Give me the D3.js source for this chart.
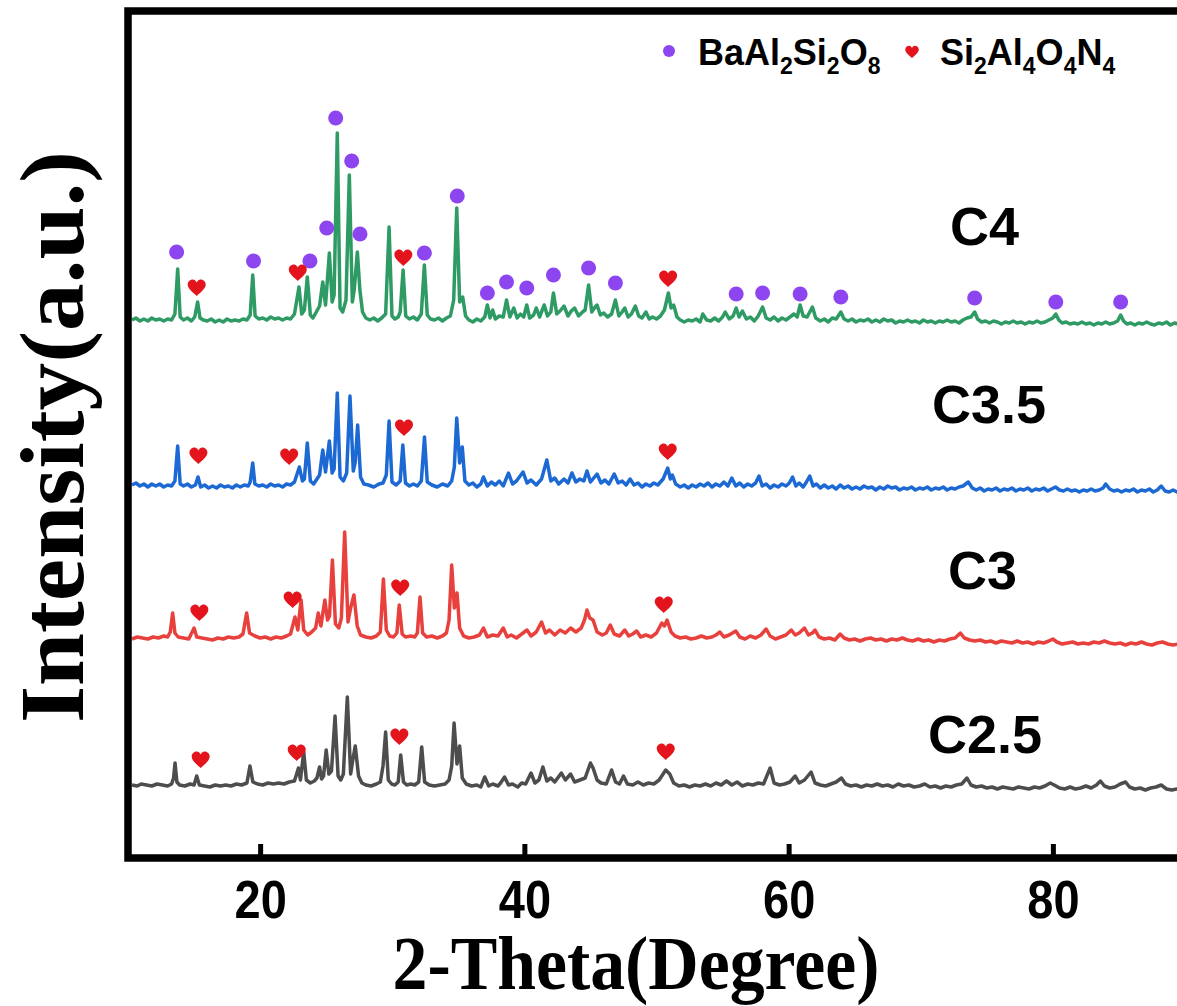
<!DOCTYPE html>
<html>
<head>
<meta charset="utf-8">
<script src="https://cdn.jsdelivr.net/npm/d3@7"></script>
<style>
  body { margin: 0; background: #fff; }
</style>
</head>
<body>
<div id="chart"></div>
<script>
// ---- data (2-theta in degrees, intensity in a.u.) ----
const seriesNames = ["C2.5", "C3", "C3.5", "C4"];
// vertical stacking offset of each pattern
const offsets = [72, 220, 371, 538];

const patternC25 = [[10.3,1],[10.7,0],[11.0,2],[11.4,1],[11.8,0],[12.2,2],[12.6,1],[13.0,0],[13.3,2],[13.45,8],[13.56,23],[13.7,4],[13.9,1],[14.3,0],[14.7,2],[15.0,1],[15.2,10],[15.4,1],[15.8,0],[16.2,-1],[16.6,1],[17.0,0],[17.4,1],[17.8,0],[18.2,2],[18.6,1],[19.0,3],[19.23,20],[19.45,4],[19.8,2],[20.2,1],[20.6,3],[21.0,2],[21.4,3],[21.8,2],[22.2,4],[22.6,5],[22.9,18],[23.05,6],[23.3,34],[23.5,6],[23.8,3],[24.1,5],[24.3,8],[24.5,19],[24.65,7],[24.8,10],[25.0,36],[25.2,12],[25.4,15],[25.67,70],[25.9,10],[26.1,6],[26.3,12],[26.6,89],[26.85,12],[27.0,25],[27.2,40],[27.45,10],[27.7,3],[28.0,1],[28.4,0],[28.8,2],[29.1,4],[29.3,20],[29.5,54],[29.7,6],[29.95,2],[30.2,1],[30.45,4],[30.64,31],[30.85,4],[31.1,1],[31.4,2],[31.7,1],[32.0,4],[32.23,39],[32.45,4],[32.8,1],[33.2,0],[33.6,1],[34.0,2],[34.3,6],[34.5,20],[34.68,63],[34.9,22],[35.1,40],[35.3,8],[35.6,2],[36.0,0],[36.4,1],[36.7,-1],[37.0,9],[37.3,0],[37.6,2],[38.0,0],[38.2,3],[38.5,9],[38.8,1],[39.1,2],[39.5,-1],[39.8,3],[40.1,2],[40.5,13],[40.8,3],[41.1,6],[41.4,19],[41.7,5],[42.0,8],[42.3,4],[42.8,13],[43.1,6],[43.5,12],[43.8,4],[44.2,6],[44.6,8],[45.0,23],[45.2,18],[45.5,6],[45.8,3],[46.2,2],[46.6,16],[46.9,4],[47.2,2],[47.5,10],[47.8,2],[48.2,1],[48.6,4],[49.0,1],[49.4,3],[49.8,2],[50.2,6],[50.5,12],[50.7,16],[51.0,12],[51.3,3],[51.7,0],[52.1,1],[52.5,-1],[52.9,1],[53.3,0],[53.7,2],[54.1,0],[54.5,3],[54.9,1],[55.3,5],[55.7,1],[56.1,4],[56.5,0],[56.9,2],[57.3,1],[57.7,3],[58.1,2],[58.6,18],[58.9,3],[59.3,1],[59.7,2],[60.1,4],[60.5,10],[60.8,3],[61.2,6],[61.7,14],[62.0,3],[62.4,1],[62.8,0],[63.2,2],[63.6,4],[64.0,8],[64.3,2],[64.7,0],[65.1,1],[65.5,-1],[65.9,1],[66.3,0],[66.7,2],[67.1,0],[67.5,1],[67.9,-1],[68.3,2],[68.7,0],[69.1,1],[69.5,-1],[69.9,0],[70.3,2],[70.7,-1],[71.1,0],[71.5,-2],[71.9,0],[72.3,-1],[72.7,1],[73.1,2],[73.5,8],[73.8,1],[74.2,-1],[74.6,0],[75.0,-2],[75.4,-1],[75.8,-3],[76.2,-1],[76.6,-2],[77.0,-3],[77.4,-1],[77.8,-2],[78.2,-3],[78.6,-1],[79.0,-2],[79.4,0],[79.8,3],[80.1,1],[80.5,-2],[80.9,-3],[81.3,-1],[81.7,-3],[82.1,-2],[82.5,0],[82.9,-2],[83.3,1],[83.6,5],[83.9,0],[84.3,-2],[84.7,-1],[85.1,2],[85.5,4],[85.8,-1],[86.2,-3],[86.6,-2],[87.0,-4],[87.4,-2],[87.8,-1],[88.2,1],[88.6,-3],[89.0,-4],[89.4,-3],[89.8,-4],[90,-4]];

const patternC3 = [[10.3,-1],[10.7,1],[11.1,0],[11.5,-1],[11.9,1],[12.3,0],[12.7,2],[13.0,1],[13.2,6],[13.38,25],[13.55,5],[13.8,1],[14.2,0],[14.6,-1],[15.0,10],[15.2,1],[15.6,0],[16.0,-1],[16.4,-2],[16.8,0],[17.2,-1],[17.6,1],[18.0,0],[18.4,1],[18.7,4],[18.98,25],[19.2,5],[19.6,2],[20.0,0],[20.4,1],[20.8,-1],[21.2,1],[21.6,0],[22.0,2],[22.3,4],[22.64,21],[22.85,8],[23.1,38],[23.3,8],[23.6,3],[23.9,6],[24.2,10],[24.4,25],[24.6,12],[24.9,38],[25.1,18],[25.25,22],[25.47,78],[25.7,14],[25.95,10],[26.15,20],[26.4,106],[26.65,16],[26.85,30],[27.1,43],[27.35,12],[27.6,3],[28.0,1],[28.4,0],[28.8,2],[29.1,6],[29.33,59],[29.55,8],[29.8,2],[30.1,1],[30.35,5],[30.53,33],[30.75,4],[31.0,1],[31.4,2],[31.7,1],[31.9,5],[32.1,41],[32.3,5],[32.6,1],[33.0,2],[33.4,0],[33.8,2],[34.1,5],[34.3,18],[34.5,73],[34.7,30],[34.9,45],[35.1,10],[35.4,2],[35.8,0],[36.2,1],[36.6,3],[36.9,10],[37.2,1],[37.6,3],[38.0,2],[38.4,10],[38.7,1],[39.0,3],[39.4,0],[39.8,4],[40.2,8],[40.5,2],[40.9,6],[41.3,16],[41.6,5],[41.9,8],[42.3,3],[42.7,8],[43.1,5],[43.5,10],[43.9,6],[44.3,10],[44.55,18],[44.74,28],[44.95,20],[45.2,18],[45.5,6],[45.9,3],[46.2,5],[46.5,13],[46.8,4],[47.2,2],[47.6,8],[47.9,2],[48.2,4],[48.5,7],[48.8,1],[49.2,3],[49.6,1],[50.0,5],[50.4,15],[50.6,12],[50.8,18],[51.1,6],[51.4,2],[51.8,0],[52.2,1],[52.6,-1],[53.0,0],[53.4,2],[53.8,0],[54.2,1],[54.5,3],[54.8,6],[55.1,1],[55.5,3],[56.0,7],[56.3,1],[56.7,-1],[57.1,2],[57.5,0],[57.9,3],[58.3,9],[58.6,2],[59.0,-1],[59.4,1],[59.8,3],[60.2,8],[60.5,3],[60.8,5],[61.2,10],[61.5,3],[61.8,5],[62.0,8],[62.3,1],[62.7,-1],[63.1,0],[63.5,-2],[63.9,4],[64.2,0],[64.6,-2],[65.0,-1],[65.4,-3],[65.8,-1],[66.2,0],[66.6,-2],[67.0,-1],[67.4,-3],[67.8,-1],[68.2,-2],[68.6,0],[69.0,-2],[69.4,-3],[69.8,-1],[70.2,-3],[70.6,-2],[71.0,-4],[71.4,-2],[71.8,-3],[72.2,-1],[72.6,0],[73.0,5],[73.3,0],[73.7,-2],[74.1,-3],[74.5,-2],[74.9,-4],[75.3,-3],[75.7,-5],[76.1,-3],[76.5,-4],[76.9,-5],[77.3,-3],[77.7,-5],[78.1,-4],[78.5,-6],[78.9,-4],[79.3,-5],[79.7,-3],[80.0,-1],[80.3,-4],[80.7,-6],[81.1,-5],[81.5,-4],[81.9,-6],[82.3,-5],[82.7,-6],[83.1,-4],[83.5,-5],[83.9,-3],[84.3,-5],[84.7,-6],[85.1,-5],[85.5,-7],[85.9,-5],[86.3,-6],[86.7,-4],[87.1,-6],[87.5,-7],[87.9,-5],[88.3,-4],[88.7,-6],[89.1,-7],[89.5,-6],[90,-7]];

const patternC35 = [[10.3,2],[10.6,4],[10.9,1],[11.2,3],[11.5,0],[11.8,3],[12.1,1],[12.4,3],[12.7,0],[13.0,2],[13.3,1],[13.55,6],[13.76,41],[13.95,3],[14.2,1],[14.5,3],[14.8,0],[15.1,2],[15.3,10],[15.5,0],[15.8,2],[16.1,-1],[16.4,1],[16.7,-1],[17.0,2],[17.3,0],[17.6,1],[17.9,-1],[18.2,2],[18.5,0],[18.8,2],[19.1,1],[19.25,5],[19.44,24],[19.6,3],[19.9,1],[20.2,2],[20.5,0],[20.8,3],[21.1,1],[21.4,2],[21.7,0],[22.0,3],[22.3,2],[22.6,5],[22.97,20],[23.2,6],[23.35,8],[23.57,44],[23.8,6],[24.05,3],[24.3,8],[24.5,12],[24.74,37],[24.95,15],[25.24,46],[25.45,14],[25.6,18],[25.84,94],[26.05,10],[26.3,6],[26.55,14],[26.8,91],[27.05,16],[27.2,25],[27.38,62],[27.6,10],[27.85,3],[28.2,2],[28.6,0],[29.0,3],[29.3,4],[29.55,12],[29.76,66],[29.98,5],[30.3,2],[30.6,6],[30.8,42],[31.0,4],[31.3,1],[31.6,3],[31.9,1],[32.2,6],[32.44,50],[32.65,5],[33.0,2],[33.4,0],[33.8,3],[34.2,1],[34.5,6],[34.7,20],[34.88,69],[35.1,24],[35.3,40],[35.5,6],[35.8,2],[36.1,4],[36.4,0],[36.7,3],[36.9,10],[37.2,1],[37.5,5],[37.8,2],[38.1,6],[38.4,1],[38.8,14],[39.1,3],[39.4,6],[39.9,15],[40.2,4],[40.5,7],[40.9,2],[41.3,8],[41.7,27],[42.0,6],[42.3,9],[42.6,3],[43.0,8],[43.3,4],[43.6,14],[43.9,5],[44.2,8],[44.5,6],[44.74,16],[45.0,5],[45.5,13],[45.8,4],[46.1,7],[46.4,3],[46.8,13],[47.1,4],[47.4,6],[47.7,2],[48.0,8],[48.3,2],[48.6,4],[48.9,0],[49.2,3],[49.5,1],[49.8,4],[50.1,2],[50.5,8],[50.85,19],[51.05,8],[51.2,12],[51.45,3],[51.8,0],[52.1,2],[52.4,-1],[52.7,2],[53.0,0],[53.3,3],[53.6,1],[53.9,4],[54.2,0],[54.5,3],[54.8,1],[55.1,5],[55.4,1],[55.7,9],[56.0,1],[56.3,4],[56.6,0],[56.9,3],[57.2,1],[57.5,4],[57.76,11],[58.0,1],[58.3,3],[58.6,-1],[58.9,2],[59.2,0],[59.5,3],[59.8,1],[60.05,4],[60.3,10],[60.55,1],[60.8,4],[61.1,0],[61.35,5],[61.6,11],[61.85,1],[62.1,3],[62.4,-1],[62.7,2],[63.0,-1],[63.3,1],[63.6,-2],[63.9,2],[64.2,-1],[64.5,1],[64.8,-2],[65.1,0],[65.4,-2],[65.7,1],[66.0,-1],[66.3,0],[66.6,-3],[66.9,0],[67.2,-2],[67.5,1],[67.8,-1],[68.1,0],[68.4,-3],[68.7,-1],[69.0,-2],[69.3,0],[69.6,-3],[69.9,-1],[70.2,-2],[70.5,0],[70.8,-3],[71.1,-1],[71.4,-2],[71.7,0],[72.0,-3],[72.3,-1],[72.6,-2],[72.9,0],[73.2,1],[73.6,5],[73.9,-1],[74.2,-3],[74.5,-1],[74.8,-4],[75.1,-2],[75.4,-3],[75.7,-1],[76.0,-4],[76.3,-2],[76.6,-3],[76.9,-1],[77.2,-4],[77.5,-2],[77.8,-3],[78.1,-1],[78.4,-4],[78.7,-2],[79.0,-3],[79.3,-1],[79.6,-4],[79.9,-2],[80.2,0],[80.5,-3],[80.8,-4],[81.1,-2],[81.4,-4],[81.7,-3],[82.0,-5],[82.3,-3],[82.6,-4],[82.9,-2],[83.2,-4],[83.5,-3],[83.8,-1],[84.0,3],[84.3,-2],[84.6,-4],[84.9,-3],[85.2,-5],[85.5,-3],[85.8,-4],[86.1,-2],[86.4,-5],[86.7,-3],[87.0,-4],[87.3,-2],[87.6,-5],[87.9,-3],[88.2,1],[88.5,-4],[88.8,-5],[89.1,-3],[89.4,-5],[89.7,-4],[90,-5]];

const patternC4 = [[10.3,0],[10.6,2],[10.9,-1],[11.2,1],[11.5,-1],[11.8,2],[12.1,0],[12.4,1],[12.7,-1],[13.0,1],[13.3,0],[13.55,6],[13.76,51],[13.95,3],[14.2,0],[14.5,2],[14.8,-1],[15.05,3],[15.27,18],[15.45,2],[15.7,0],[16.0,-1],[16.3,1],[16.6,-2],[16.9,0],[17.2,-2],[17.5,1],[17.8,-1],[18.1,0],[18.4,-1],[18.7,1],[19.0,0],[19.25,5],[19.44,45],[19.62,4],[19.9,1],[20.2,2],[20.5,0],[20.8,3],[21.1,1],[21.4,2],[21.7,0],[22.0,2],[22.3,1],[22.6,6],[22.94,33],[23.15,6],[23.35,10],[23.57,43],[23.8,5],[24.0,2],[24.25,8],[24.5,14],[24.74,38],[24.95,15],[25.24,67],[25.45,18],[25.6,25],[25.84,187],[26.05,12],[26.25,8],[26.5,20],[26.75,145],[26.98,18],[27.12,30],[27.36,68],[27.55,30],[27.75,8],[28.0,2],[28.3,0],[28.6,2],[28.9,-1],[29.2,2],[29.5,6],[29.76,93],[29.98,4],[30.2,1],[30.45,3],[30.6,8],[30.82,50],[31.02,4],[31.3,1],[31.6,3],[31.9,0],[32.2,6],[32.43,55],[32.65,5],[32.9,1],[33.2,0],[33.5,2],[33.8,-1],[34.1,2],[34.4,4],[34.65,20],[34.88,112],[35.1,18],[35.33,23],[35.55,4],[35.8,0],[36.1,-2],[36.4,1],[36.7,-1],[37.0,3],[37.2,15],[37.4,2],[37.6,10],[37.8,1],[38.1,4],[38.4,3],[38.65,20],[38.9,3],[39.2,12],[39.45,2],[39.7,6],[39.95,3],[40.18,15],[40.4,2],[40.7,5],[40.9,12],[41.15,3],[41.5,15],[41.75,4],[42.0,8],[42.2,27],[42.45,6],[42.7,9],[43.0,14],[43.3,4],[43.55,9],[43.8,12],[44.1,4],[44.4,8],[44.6,10],[44.86,35],[45.1,8],[45.3,12],[45.5,15],[45.75,5],[46.0,7],[46.3,3],[46.6,6],[46.89,20],[47.15,4],[47.4,8],[47.6,12],[47.85,3],[48.1,6],[48.4,14],[48.65,4],[48.9,2],[49.2,8],[49.45,1],[49.7,3],[50.0,1],[50.3,4],[50.6,10],[50.9,27],[51.1,12],[51.3,15],[51.55,3],[51.8,0],[52.1,-2],[52.4,0],[52.7,-1],[53.0,1],[53.3,-2],[53.5,6],[53.8,0],[54.1,-1],[54.4,2],[54.7,-1],[55.0,3],[55.2,8],[55.5,1],[55.8,4],[56.03,12],[56.25,3],[56.5,9],[56.8,1],[57.1,3],[57.4,-1],[57.7,4],[58.03,13],[58.3,2],[58.6,0],[58.9,3],[59.2,-1],[59.5,2],[59.8,0],[60.1,3],[60.4,6],[60.65,3],[60.87,15],[61.1,4],[61.4,3],[61.8,13],[62.05,2],[62.4,-1],[62.7,1],[63.0,-2],[63.3,2],[63.6,1],[63.95,8],[64.2,1],[64.5,-1],[64.8,1],[65.1,-2],[65.4,0],[65.7,-1],[66.0,1],[66.3,-2],[66.6,0],[66.9,-2],[67.2,1],[67.5,-1],[67.8,0],[68.1,-3],[68.4,-1],[68.7,-2],[69.0,0],[69.3,-2],[69.6,-1],[69.9,-3],[70.2,0],[70.5,-2],[70.8,-1],[71.1,-3],[71.4,-1],[71.7,-2],[72.0,0],[72.3,-2],[72.6,-1],[72.9,-3],[73.2,0],[73.5,2],[73.8,3],[74.08,8],[74.3,1],[74.6,-2],[74.9,-1],[75.2,-3],[75.5,-1],[75.8,-2],[76.1,-4],[76.4,-2],[76.7,-3],[77.0,-1],[77.3,-3],[77.6,-2],[77.9,-4],[78.2,-2],[78.5,-3],[78.8,-1],[79.1,-3],[79.4,-2],[79.7,0],[80.0,2],[80.22,6],[80.45,0],[80.7,-3],[81.0,-2],[81.3,-4],[81.6,-3],[81.9,-4],[82.2,-2],[82.5,-4],[82.8,-3],[83.1,-5],[83.4,-3],[83.7,-4],[84.0,-2],[84.3,-4],[84.6,-3],[84.9,-1],[85.13,5],[85.35,-1],[85.6,-4],[85.9,-3],[86.2,-5],[86.5,-3],[86.8,-4],[87.1,-2],[87.4,-4],[87.7,-5],[88.0,-3],[88.3,-4],[88.6,-2],[88.9,-5],[89.2,-3],[89.5,-4],[89.8,-6],[90,-5]];

// phase markers: [2-theta, height above the pattern baseline]
const baAl2Si2O8MarksC4 = [[13.68,68],[19.5,59],[23.77,59],[25.04,92],[25.72,202],[26.93,159],[27.56,86],[32.43,67],[34.92,124],[37.2,27],[38.65,38],[40.18,32],[42.2,45],[44.86,52],[46.89,37],[56.03,26],[58.03,27],[60.87,26],[63.95,23],[74.08,22],[80.22,18],[85.13,18]];
const si2Al4O4N4MarksC25 = [[15.5,26],[22.77,33],[30.54,49],[50.7,34]];
const si2Al4O4N4MarksC3 = [[15.4,25],[22.46,38],[30.6,50],[50.55,33]];
const si2Al4O4N4MarksC35 = [[15.33,31],[22.2,30],[30.89,59],[50.85,35]];
const si2Al4O4N4MarksC4 = [[15.2,32],[22.85,47],[30.84,62],[50.88,41]];

const xTicks = [20, 40, 60, 80];

// ---- layout ----
const width = 1177, height = 1006;
const plot = { left: 128, top: 11, bottom: 858, right: 1185 };
const sansFont = "'Liberation Sans', Arial, Helvetica, sans-serif";
const serifFont = "'Liberation Serif', 'Times New Roman', Times, serif";

const patterns = [patternC25, patternC3, patternC35, patternC4];
const hearts = [si2Al4O4N4MarksC25, si2Al4O4N4MarksC3, si2Al4O4N4MarksC35, si2Al4O4N4MarksC4];
const lineColors = ["#4d4d4d", "#e8403d", "#1c69d4", "#2e9a64"];
const labelPos = [[928, 753], [948, 589], [932, 423], [950, 245]];
const purple = "#8d45f0", red = "#e3141c";

const svg = d3.select("#chart").append("svg")
    .attr("width", width)
    .attr("height", height)
    .style("background", "#fff");

const x = d3.scaleLinear().domain([10, 90]).range([plot.left, plot.right]);
const y = d3.scaleLinear().domain([0, plot.bottom - plot.top]).range([plot.bottom, plot.top]);

// heart marker path, roughly 18 x 16.5 px
const heartPath = "M0,8 C-3,5 -9,1 -9,-3.5 C-9,-7 -6,-8.5 -4,-8.5 C-2,-8.5 -0.5,-7 0,-5.5 C0.5,-7 2,-8.5 4,-8.5 C6,-8.5 9,-7 9,-3.5 C9,1 3,5 0,8 Z";

// patterns
patterns.forEach((pts, i) => {
    const line = d3.line()
        .x(d => x(d[0]))
        .y(d => y(d[1] + offsets[i]));
    svg.append("path")
        .datum(pts)
        .attr("fill", "none")
        .attr("stroke", lineColors[i])
        .attr("stroke-width", 3.5)
        .attr("stroke-linejoin", "round")
        .attr("d", line);
});

// BaAl2Si2O8 circles on C4
svg.append("g").selectAll("circle")
    .data(baAl2Si2O8MarksC4)
    .enter().append("circle")
    .attr("cx", d => x(d[0]))
    .attr("cy", d => y(d[1] + offsets[3]))
    .attr("r", 7.5)
    .attr("fill", purple);

// Si2Al4O4N4 hearts on every pattern
hearts.forEach((marks, i) => {
    svg.append("g").selectAll("path")
        .data(marks)
        .enter().append("path")
        .attr("d", heartPath)
        .attr("transform", d => `translate(${x(d[0])},${y(d[1] + offsets[i])})`)
        .attr("fill", red);
});

// frame (right edge falls outside the picture)
svg.append("rect")
    .attr("x", plot.left)
    .attr("y", plot.top)
    .attr("width", plot.right - plot.left)
    .attr("height", plot.bottom - plot.top)
    .attr("fill", "none")
    .attr("stroke", "#000")
    .attr("stroke-width", 7.5);

// bottom axis: inward ticks
const xAxis = svg.append("g")
    .attr("transform", `translate(0,${plot.bottom})`)
    .call(d3.axisBottom(x).tickValues(xTicks).tickSize(-14).tickSizeOuter(0).tickFormat(d3.format("d")));
xAxis.select(".domain").remove();
xAxis.selectAll(".tick line").attr("stroke", "#000").attr("stroke-width", 5);
xAxis.selectAll(".tick text")
    .attr("y", 0).attr("dy", 0)
    .attr("transform", "translate(0,60) scale(1,1.13)")
    .attr("fill", "#000")
    .style("font-family", sansFont)
    .style("font-weight", "bold")
    .style("font-size", "47px");

// axis titles
svg.append("text")
    .attr("transform", "translate(636,989) scale(1,1.1)")
    .attr("text-anchor", "middle")
    .attr("textLength", 487)
    .attr("lengthAdjust", "spacingAndGlyphs")
    .style("font-family", serifFont)
    .style("font-weight", "bold")
    .style("font-size", "70px")
    .text("2-Theta(Degree)");

svg.append("text")
    .attr("transform", "translate(83,437) rotate(-90)")
    .attr("text-anchor", "middle")
    .attr("textLength", 572)
    .attr("lengthAdjust", "spacingAndGlyphs")
    .style("font-family", serifFont)
    .style("font-weight", "bold")
    .style("font-size", "92px")
    .text("Intensity(a.u.)");

// pattern labels
seriesNames.forEach((name, i) => {
    svg.append("text")
        .attr("x", labelPos[i][0])
        .attr("y", labelPos[i][1])
        .style("font-family", sansFont)
        .style("font-weight", "bold")
        .style("font-size", "54px")
        .text(name);
});

// legend
function chemText(xPos, yPos, parts) {
    const t = svg.append("text")
        .attr("x", xPos)
        .attr("y", yPos)
        .style("font-family", sansFont)
        .style("font-weight", "bold")
        .style("font-size", "36px");
    let shifted = false;
    parts.forEach(p => {
        const sub = /^\d$/.test(p);
        const dy = sub && !shifted ? 9 : (!sub && shifted ? -9 : 0);
        shifted = sub;
        t.append("tspan")
            .attr("dy", dy)
            .style("font-size", sub ? "23px" : "36px")
            .text(p);
    });
}

svg.append("circle").attr("cx", 669).attr("cy", 51).attr("r", 6).attr("fill", purple);
chemText(698, 65, ["BaAl", "2", "Si", "2", "O", "8"]);
svg.append("path").attr("d", heartPath)
    .attr("transform", "translate(912,52) scale(0.75)")
    .attr("fill", red);
chemText(940, 65, ["Si", "2", "Al", "4", "O", "4", "N", "4"]);
</script>
</body>
</html>
